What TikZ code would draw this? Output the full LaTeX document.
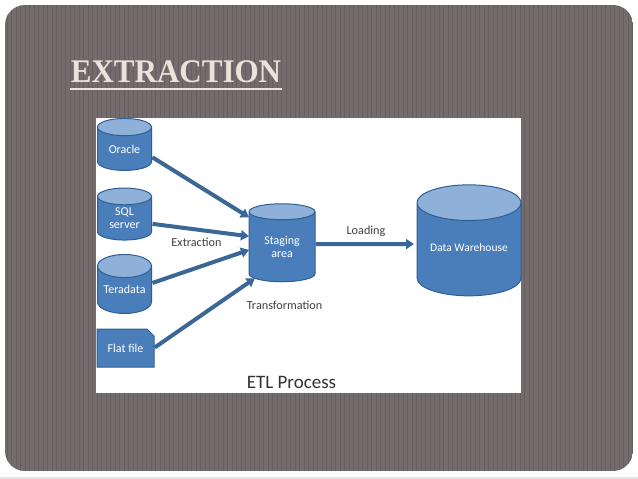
\documentclass[tikz,border=0pt]{standalone}
\usepackage{fontspec}
\setmainfont{Carlito}
\newfontfamily\titlefont{Liberation Serif}
\usetikzlibrary{arrows.meta}
\usetikzlibrary{shapes.geometric}

\definecolor{panelgrey}{HTML}{746C6C}
\definecolor{stripegrey}{HTML}{675F5F}
\definecolor{titlecream}{HTML}{E9E3DB}
\definecolor{dbbody}{HTML}{4A7EBB}
\definecolor{dbtop}{HTML}{8FB0D9}
\definecolor{dbline}{HTML}{2E5F92}
\definecolor{flowblue}{HTML}{3A6796}

\tikzset{
    dbstore/.style={cylinder, shape border rotate=90, draw=dbline, line width=1pt,
        cylinder uses custom fill, cylinder body fill=dbbody, cylinder end fill=dbtop,
        inner sep=0pt, outer sep=0pt, text=white, align=center, font=\fontsize{12}{13}\selectfont},
    flow/.style={-{Triangle[length=8pt,width=10pt]}, line width=4pt, draw=flowblue, shorten <=1pt},
    caption/.style={text=black!75, font=\fontsize{12.2}{14}\selectfont}
}

\begin{document}
\begin{tikzpicture}[x=1pt,y=-1pt]
    \useasboundingbox (0,0) rectangle (638,479);

    % draws page and panel
    \fill[black!10] (0,476.5) rectangle (638,479);
    \begin{scope}
        \clip[rounded corners=20pt] (5,5) rectangle (633,471);
        \fill[panelgrey] (5,5) rectangle (633,471);
        \foreach \xpos in {7,11.5,...,633} {
            \draw[stripegrey,line width=0.8pt] (\xpos,5) -- (\xpos,471);
        }
    \end{scope}

    % draws title
    \node[text=titlecream] (title) at (176,72) {\titlefont\bfseries\fontsize{33}{33}\selectfont\scalebox{0.94}[1]{EXTRACTION}};
    \draw[titlecream,line width=1.4pt] (70,89) -- (282,89);

    % draws white sheet
    \fill[white] (96,118) rectangle (521,393);

    % draws sources
    \node[dbstore, aspect=0.55, minimum width=54pt, minimum height=52pt] (oracle) at (124.5,149) {Oracle};
    \node[dbstore, aspect=0.55, minimum width=54pt, minimum height=52pt] (sqlserver) at (124.5,218.5) {SQL\\server};
    \node[dbstore, aspect=0.55, minimum width=54pt, minimum height=59pt] (teradata) at (124.5,290) {\raisebox{2pt}{Teradata}};

    % draws flat file
    \fill[dbbody,draw=dbline,line width=1pt] (97,329) -- (147,329) -- (154,336) -- (154,367) -- (97,367) -- cycle;
    \node[text=white, font=\fontsize{12}{13}\selectfont, minimum width=57pt, minimum height=38pt, inner sep=0pt, outer sep=0pt] (flatfile) at (125.5,348) {Flat file};

    % draws staging area and warehouse
    \node[dbstore, aspect=0.45, minimum width=66pt, minimum height=78pt] (staging) at (282,247) {Staging\\area};
    \node[dbstore, aspect=0.46, minimum width=104pt, minimum height=111pt, font=\fontsize{11.5}{13}\selectfont] (warehouse) at (469,249.5) {\raisebox{3pt}{Data Warehouse}};

    % draws edges
    \draw[flow] (oracle.-16) to (staging.138);
    \draw[flow] (sqlserver.-11) to (staging.162);
    \draw[flow] (teradata.14) to (staging.185);
    \draw[flow] (flatfile.east) to (staging.229);
    \draw[flow,shorten >=3pt] (staging.5) to (warehouse.174);

    % labels edges
    \node[caption] (extractlabel) at (196.5,242) {Extraction};
    \node[caption] (loadlabel) at (366,231) {Loading};
    \node[caption] (translabel) at (284.5,305) {Transformation};

    % labels picture
    \node[text=black!80, font=\fontsize{19}{21}\selectfont] (etllabel) at (291.5,382) {ETL Process};
\end{tikzpicture}
\end{document}
